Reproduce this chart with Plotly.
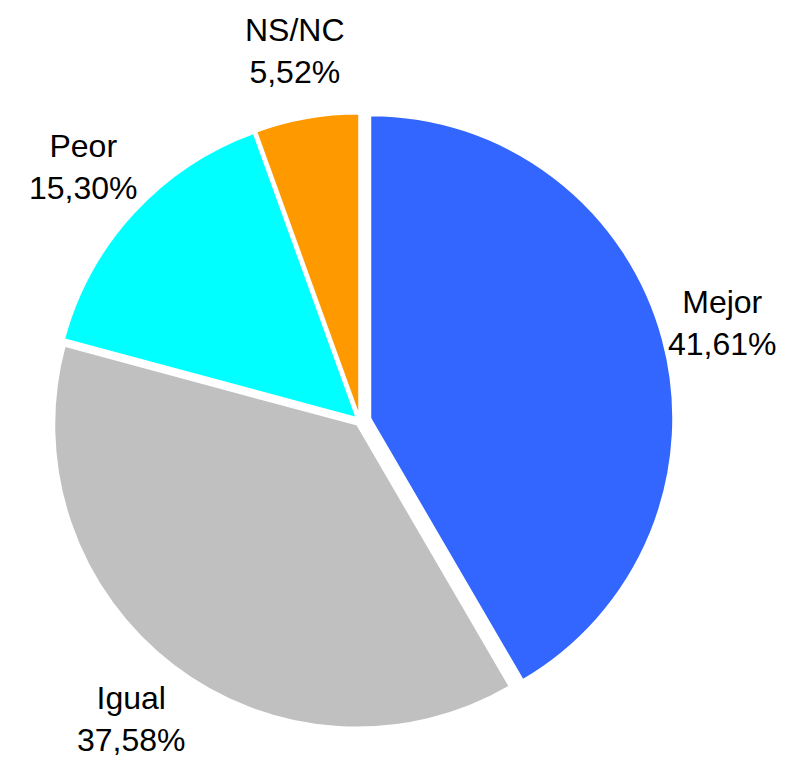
import math
import plotly.graph_objects as go

labels = ["Mejor", "Igual", "Peor", "NS/NC"]
values = [41.61, 37.58, 15.30, 5.52]
colors = ["#3366FF", "#C0C0C0", "#00FFFF", "#FF9900"]
pulls = [0.035, 0.015, 0.015, 0.015]

W, H = 789, 770
cx, cy, r = 352, 413, 303  # pie centre and radius in pixels
box = 2 * r * (1 + max(pulls))

fig = go.Figure(go.Pie(
    labels=labels,
    values=values,
    sort=False,
    direction="clockwise",
    rotation=0,
    pull=pulls,
    marker=dict(colors=colors, line=dict(color="white", width=2)),
    textinfo="none",
    showlegend=False,
    hoverinfo="label+percent",
    domain=dict(
        x=[(cx - box / 2) / W, (cx + box / 2) / W],
        y=[1 - (cy + box / 2) / H, 1 - (cy - box / 2) / H],
    ),
))

# outside labels placed along each slice's mid angle (Excel style)
total = sum(values)
start = 0
for lab, v in zip(labels, values):
    mid = (start + v / 2) / total * 2 * math.pi
    start += v
    x = cx + 1.24 * r * math.sin(mid)
    y = cy - 1.24 * r * math.cos(mid)
    fig.add_annotation(
        x=x / W, y=1 - y / H, xref="paper", yref="paper",
        text=f"{lab}<br>{v:.2f}%".replace(".", ","),
        showarrow=False, xanchor="center", yanchor="middle",
        font=dict(family="Liberation Sans", size=32, color="black"),
    )

fig.update_layout(
    width=W,
    height=H,
    margin=dict(l=0, r=0, t=0, b=0),
    paper_bgcolor="white",
    plot_bgcolor="white",
)

fig.write_html("out.html")
